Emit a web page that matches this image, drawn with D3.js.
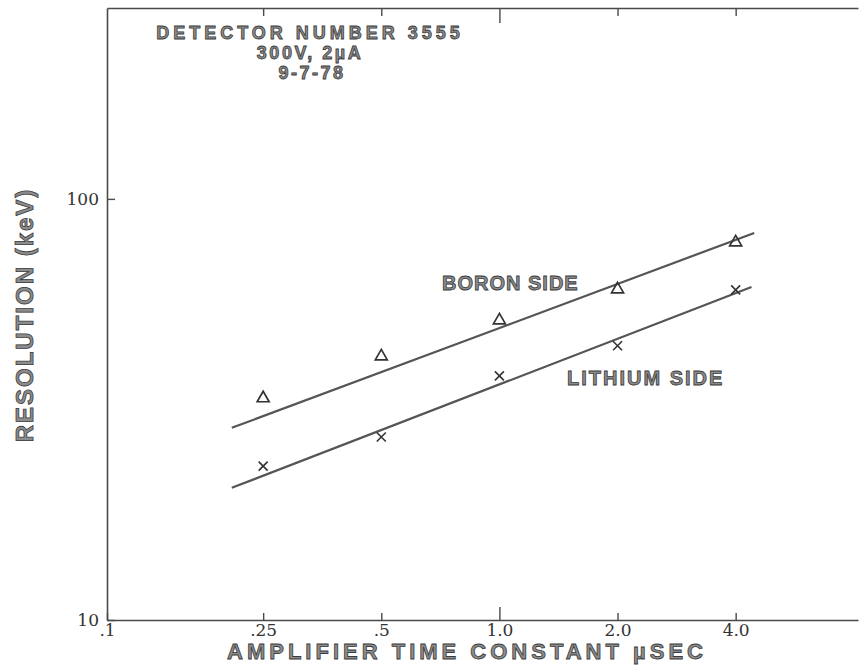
<!DOCTYPE html>
<html>
<head>
<meta charset="utf-8">
<script src="https://cdn.jsdelivr.net/npm/d3@7"></script>
<style>
  body { margin: 0; background: #fff; }
  .tick text { font-family: 'DejaVu Serif', serif; font-size: 17px; fill: #333; }
  .lbl { font-family: 'Liberation Sans', Arial, sans-serif; font-weight: bold; fill: #8c8c8c; stroke: #3a3a3a; stroke-width: 0.8px; }
</style>
</head>
<body>
<div id="chart"></div>
<script>
// Resolution vs amplifier time constant, log-log
const xTicks = [0.1, 0.25, 0.5, 1, 2, 4]
const xTickLabels = ['.1', '.25', '.5', '1.0', '2.0', '4.0']
const yTicks = [10, 100]
const yTickLabels = ['10', '100']
const timeConstants = [0.25, 0.5, 1, 2, 4]
const boronSide = [33.9, 42.6, 51.9, 61.5, 79.5]
const lithiumSide = [23.2, 27.2, 38.0, 44.8, 60.8]
const boronFit = [[0.208, 28.6], [4.46, 83.0]]
const lithiumFit = [[0.208, 20.6], [4.39, 61.8]]
const titleLines = ['DETECTOR NUMBER 3555', '300V, 2\u00b5A', '9-7-78']

const chartWidth = 862
const chartHeight = 665
const margin = { top: 8, right: 4, bottom: 45, left: 107 }
const ink = '#4a4a4a'

const svg = d3.select('#chart')
  .append('svg')
    .attr('width', chartWidth)
    .attr('height', chartHeight)

const x = d3.scaleLog()
  .domain([0.1, 8.2])
  .range([margin.left, chartWidth - margin.right])

const y = d3.scaleLog()
  .domain([10, 284])
  .range([chartHeight - margin.bottom, margin.top])

function styleAxis(g) {
  g.select('.domain').attr('stroke', ink).attr('stroke-width', 1.6)
  g.selectAll('.tick line').attr('stroke', ink).attr('stroke-width', 1.4)
}

// bottom axis, ticks pointing in
svg.append('g')
  .attr('transform', `translate(0, ${y.range()[0]})`)
  .call(d3.axisBottom(x)
    .tickValues(xTicks)
    .tickFormat((d, i) => xTickLabels[i])
    .tickSizeInner(-7)
    .tickSizeOuter(0)
    .tickPadding(4))
  .call(styleAxis)
  .call(g => g.selectAll('.tick line').filter(d => d === 1).attr('y2', -13))

// top axis
svg.append('g')
  .attr('transform', `translate(0, ${y.range()[1]})`)
  .call(d3.axisTop(x)
    .tickValues(xTicks.slice(1))
    .tickFormat('')
    .tickSizeInner(-8)
    .tickSizeOuter(0))
  .call(styleAxis)
  .call(g => g.selectAll('.tick line').filter(d => d === 1).attr('y2', 15))

// left axis
svg.append('g')
  .attr('transform', `translate(${x.range()[0]}, 0)`)
  .call(d3.axisLeft(y)
    .tickValues(yTicks)
    .tickFormat((d, i) => yTickLabels[i])
    .tickSizeInner(-8)
    .tickSizeOuter(0)
    .tickPadding(8))
  .call(styleAxis)

svg.selectAll('.tick text').attr('stroke', 'none')

// fitted lines
const line = d3.line()
  .x(d => x(d[0]))
  .y(d => y(d[1]))

;[boronFit, lithiumFit].forEach(fit => {
  svg.append('path')
    .attr('d', line(fit))
    .attr('fill', 'none')
    .attr('stroke', '#555')
    .attr('stroke-width', 2.2)
})

// boron points: open triangles
svg.selectAll('.tri')
  .data(timeConstants)
  .enter()
  .append('path')
    .attr('class', 'tri')
    .attr('transform', (d, i) => `translate(${x(d)}, ${y(boronSide[i])})`)
    .attr('d', 'M0,-5.5L6,5L-6,5Z')
    .attr('fill', 'none')
    .attr('stroke', '#333')
    .attr('stroke-width', 1.7)

// lithium points: crosses
svg.selectAll('.cross')
  .data(timeConstants)
  .enter()
  .append('path')
    .attr('class', 'cross')
    .attr('transform', (d, i) => `translate(${x(d)}, ${y(lithiumSide[i])})`)
    .attr('d', 'M-4.5,-4.5L4.5,4.5M4.5,-4.5L-4.5,4.5')
    .attr('fill', 'none')
    .attr('stroke', '#333')
    .attr('stroke-width', 1.6)

// series labels
svg.append('text')
  .attr('class', 'lbl')
  .attr('x', 442)
  .attr('y', 290)
  .attr('font-size', 20)
  .attr('letter-spacing', 1)
  .text('BORON SIDE')

svg.append('text')
  .attr('class', 'lbl')
  .attr('x', 567)
  .attr('y', 385)
  .attr('font-size', 20)
  .attr('letter-spacing', 2)
  .text('LITHIUM SIDE')

// title block
svg.selectAll('.title')
  .data(titleLines)
  .enter()
  .append('text')
    .attr('class', 'lbl title')
    .attr('x', (d, i) => i === 2 ? 312 : 310)
    .attr('y', (d, i) => 39 + i * 20)
    .attr('text-anchor', 'middle')
    .attr('font-size', 18)
    .attr('letter-spacing', (d, i) => i === 0 ? 4 : 2.5)
    .text(d => d)

// axis titles
svg.append('text')
  .attr('class', 'lbl')
  .attr('x', 467)
  .attr('y', 659)
  .attr('text-anchor', 'middle')
  .attr('font-size', 22)
  .attr('letter-spacing', 4)
  .text('AMPLIFIER TIME CONSTANT \u00b5SEC')

svg.append('text')
  .attr('class', 'lbl')
  .attr('transform', 'translate(33, 315) rotate(-90)')
  .attr('text-anchor', 'middle')
  .attr('font-size', 24)
  .attr('letter-spacing', 2)
  .text('RESOLUTION (keV)')
</script>
</body>
</html>
